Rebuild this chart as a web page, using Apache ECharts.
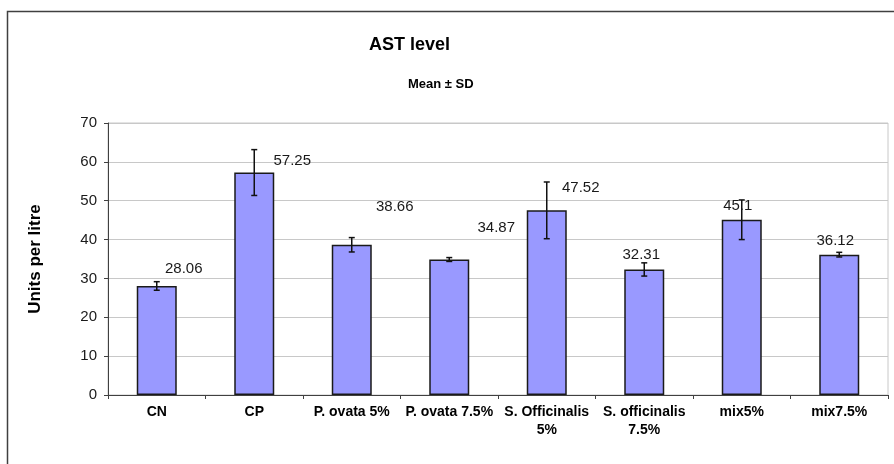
<!DOCTYPE html>
<html>
<head>
<meta charset="utf-8">
<script src="https://cdn.jsdelivr.net/npm/echarts@6/dist/echarts.min.js"></script>
<style>
html,body{margin:0;padding:0;background:#fff;}
#chart{width:894px;height:464px;}
</style>
</head>
<body>
<div id="chart"></div>
<script>
// ---- data ----
var categories = ['CN', 'CP', 'P. ovata 5%', 'P. ovata 7.5%', 'S. Officinalis\n5%', 'S. officinalis\n7.5%', 'mix5%', 'mix7.5%'];
var means = [28.06, 57.25, 38.66, 34.87, 47.52, 32.31, 45.1, 36.12];
var sds = [1.1, 5.9, 1.85, 0.5, 7.3, 1.7, 5.1, 0.6];
var yTicks = [0, 10, 20, 30, 40, 50, 60, 70];

// ---- layout (label nudges, as placed in the original) ----
var labelOffsets = [[27, -5], [38, 1], [43, -25], [47, -19], [34, -10], [-3, -2], [-4, -1], [-4, -1]];

var chart = echarts.init(document.getElementById('chart'), null, {renderer: 'canvas'});
var FONT = 'Liberation Sans, Arial, sans-serif';

var barData = means.map(function (v, i) {
  return {
    value: v,
    label: {offset: labelOffsets[i]}
  };
});
var errData = means.map(function (v, i) {
  return [i, v - sds[i], v + sds[i]];
});

var option = {
  animation: false,
  backgroundColor: '#ffffff',
  textStyle: {fontFamily: FONT},
  title: [
    {text: 'AST level', left: 364, top: 31,
     textStyle: {fontFamily: FONT, fontSize: 18, fontWeight: 'bold', color: '#000'}},
    {text: 'Mean \u00b1 SD', left: 403, top: 73,
     textStyle: {fontFamily: FONT, fontSize: 13, fontWeight: 'bold', color: '#000'}}
  ],
  graphic: [{
    type: 'rect', silent: true, z: 0,
    shape: {x: 7.5, y: 11.5, width: 900, height: 470},
    style: {fill: null, stroke: '#404040', lineWidth: 1.5}
  }],
  grid: {left: 108, right: 6, top: 123, bottom: 69, show: true, borderColor: '#c8c8c8', borderWidth: 1},
  xAxis: {
    type: 'category',
    data: categories,
    axisLine: {lineStyle: {color: '#404040', width: 1}},
    axisTick: {show: true, length: 4, inside: false, lineStyle: {color: '#404040'}},
    axisLabel: {interval: 0, margin: 8, fontFamily: FONT, fontSize: 14, fontWeight: 'bold', color: '#000', lineHeight: 18}
  },
  yAxis: {
    type: 'value',
    min: yTicks[0], max: yTicks[yTicks.length - 1], interval: 10,
    name: 'Units per litre',
    nameLocation: 'middle',
    nameGap: 64,
    nameTextStyle: {fontFamily: FONT, fontSize: 17, fontWeight: 'bold', color: '#000'},
    axisLine: {show: true, lineStyle: {color: '#404040', width: 1}},
    axisTick: {show: true, length: 4, lineStyle: {color: '#404040'}},
    axisLabel: {margin: 11, fontFamily: FONT, fontSize: 15, color: '#1a1a1a'},
    splitLine: {show: true, lineStyle: {color: '#c8c8c8', width: 1}}
  },
  series: [
    {
      type: 'bar',
      data: barData,
      barWidth: 40,
      itemStyle: {color: '#9999FF', borderColor: '#1a1a1a', borderWidth: 1.5},
      label: {show: true, position: 'top', distance: 5, fontFamily: FONT, fontSize: 15, color: '#1a1a1a'},
      z: 2
    },
    {
      type: 'custom',
      data: errData,
      z: 5,
      renderItem: function (params, api) {
        var x = api.value(0);
        var lo = api.coord([x, api.value(1)]);
        var hi = api.coord([x, api.value(2)]);
        var cap = 3;
        var st = {stroke: '#111', lineWidth: 1.5};
        return {
          type: 'group',
          children: [
            {type: 'line', shape: {x1: hi[0], y1: hi[1], x2: lo[0], y2: lo[1]}, style: st},
            {type: 'line', shape: {x1: hi[0] - cap, y1: hi[1], x2: hi[0] + cap, y2: hi[1]}, style: st},
            {type: 'line', shape: {x1: lo[0] - cap, y1: lo[1], x2: lo[0] + cap, y2: lo[1]}, style: st}
          ]
        };
      }
    }
  ]
};
chart.setOption(option);
</script>
</body>
</html>
